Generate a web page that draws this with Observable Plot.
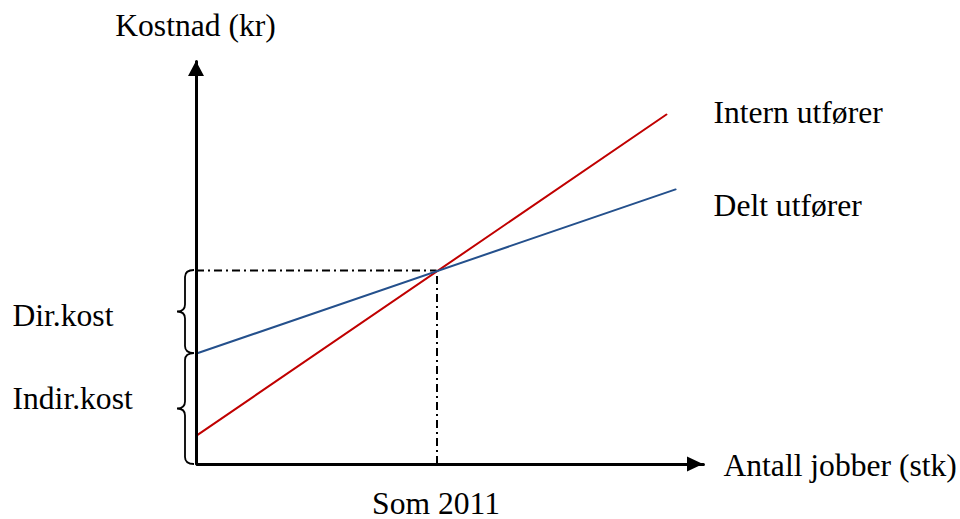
<!DOCTYPE html>
<html>
<head>
<meta charset="utf-8">
<script src="https://cdn.jsdelivr.net/npm/d3@7"></script>
<script src="https://cdn.jsdelivr.net/npm/@observablehq/plot@0.6"></script>
<style>
  html, body { margin: 0; padding: 0; background: #ffffff; }
  #chart { width: 960px; height: 519px; }
</style>
</head>
<body>
<div id="chart"></div>
<script>
// ---- Data ----
const seriesNames  = ["Intern utfører", "Delt utfører"];
const seriesColors = ["#c00000", "#24508c"];
const seriesX0 = [0, 0];
const seriesY0 = [14.9, 57.2];     // fixed (indirect) cost at zero jobs
const seriesX1 = [9.77, 9.96];
const seriesY1 = [180.4, 141.8];

const breakEvenX = 5;              // "Som 2011"
const breakEvenY = 100;
const breakEvenLabel = "Som 2011";

const xAxisEnd = 10.54;
const yAxisEnd = 207.7;
const xAxisTitle = "Antall jobber (stk)";
const yAxisTitle = "Kostnad (kr)";

const braceNames = ["Indir.kost", "Dir.kost"];
const braceLow   = [0, 57.2];
const braceHigh  = [57.2, 100];

// ---- Tables built from the arrays ----
const lines = seriesNames.flatMap((name, i) => [
  {name, x: seriesX0[i], y: seriesY0[i]},
  {name, x: seriesX1[i], y: seriesY1[i]}
]);
const ends = seriesNames.map((name, i) => ({name, x: seriesX1[i], y: seriesY1[i]}));
const axisPath = [{x: 0, y: yAxisEnd}, {x: 0, y: 0}, {x: xAxisEnd, y: 0}];
const braces = braceNames.map((name, i) => ({name, y1: braceLow[i], y2: braceHigh[i]}));

const font = "'Liberation Serif', 'Times New Roman', 'DejaVu Serif', serif";
const fs = 31.6;

// custom marks drawn with the plot's scales
function arrowHeads(index, scales) {
  const g = d3.create("svg:g");
  const tx = scales.x(0), ty = scales.y(yAxisEnd);
  g.append("path").attr("d", `M${tx},${ty}L${tx - 8},${ty + 15}L${tx + 8},${ty + 15}Z`).attr("fill", "#000");
  const rx = scales.x(xAxisEnd), ry = scales.y(0);
  g.append("path").attr("d", `M${rx},${ry}L${rx - 16},${ry - 7.5}L${rx - 16},${ry + 7.5}Z`).attr("fill", "#000");
  return g.node();
}
function braceMarks(index, scales) {
  const g = d3.create("svg:g").attr("fill", "none").attr("stroke", "#000").attr("stroke-width", 1.8);
  const xr = scales.x(0) - 2, xv = xr - 9, xt = xr - 17, r = 7;
  for (const b of braces) {
    const p1 = scales.y(b.y2), p2 = scales.y(b.y1), pm = (p1 + p2) / 2;
    g.append("path").attr("d",
      `M${xr},${p1}Q${xv},${p1} ${xv},${p1 + r}L${xv},${pm - r}Q${xv},${pm} ${xt},${pm}` +
      `Q${xv},${pm} ${xv},${pm + r}L${xv},${p2 - r}Q${xv},${p2} ${xr},${p2}`);
  }
  return g.node();
}

const chart = Plot.plot({
  width: 960,
  height: 519,
  margin: 0,
  style: {background: "#ffffff", fontFamily: font, color: "#000"},
  x: {domain: [0, 10], range: [196, 677], axis: null},
  y: {domain: [0, 100], range: [464, 270], axis: null},
  marks: [
    // dash-dot guides to the break-even point
    Plot.ruleY([breakEvenY], {x1: 0, x2: breakEvenX, stroke: "#000", strokeWidth: 2, strokeDasharray: "8,4,2,4"}),
    Plot.ruleX([breakEvenX], {y1: 0, y2: breakEvenY, stroke: "#000", strokeWidth: 2, strokeDasharray: "8,4,2,4"}),
    // cost lines
    Plot.line(lines, {x: "x", y: "y", z: "name", stroke: d => seriesColors[seriesNames.indexOf(d.name)], strokeWidth: 2}),
    // axes
    Plot.line(axisPath, {x: "x", y: "y", stroke: "#000", strokeWidth: 3, strokeLinejoin: "miter"}),
    arrowHeads,
    braceMarks,
    // texts
    Plot.text([yAxisTitle], {x: 0, y: yAxisEnd, text: d => d, textAnchor: "middle", lineAnchor: "bottom", dx: -1, dy: -26, fontSize: fs, fill: "#000"}),
    Plot.text([xAxisTitle], {x: xAxisEnd, y: 0, text: d => d, textAnchor: "start", lineAnchor: "bottom", dx: 20, dy: 11, fontSize: fs, fill: "#000"}),
    Plot.text([breakEvenLabel], {x: breakEvenX, y: 0, text: d => d, textAnchor: "middle", lineAnchor: "bottom", dx: -1, dy: 49, fontSize: fs, fill: "#000"}),
    Plot.text(ends.filter(d => d.name === seriesNames[0]), {x: "x", y: "y", text: "name", textAnchor: "start", lineAnchor: "bottom", dx: 47, dy: 8, fontSize: fs, fill: "#000"}),
    Plot.text(ends.filter(d => d.name === seriesNames[1]), {x: "x", y: "y", text: "name", textAnchor: "start", lineAnchor: "bottom", dx: 38, dy: 27, fontSize: fs, fill: "#000"}),
    Plot.text(braces, {y: "y2", text: "name", frameAnchor: "left", textAnchor: "start", lineAnchor: "bottom", dx: 12, dy: 55.5, fontSize: fs, fill: "#000"})
  ]
});
document.getElementById("chart").appendChild(chart);
</script>
</body>
</html>
